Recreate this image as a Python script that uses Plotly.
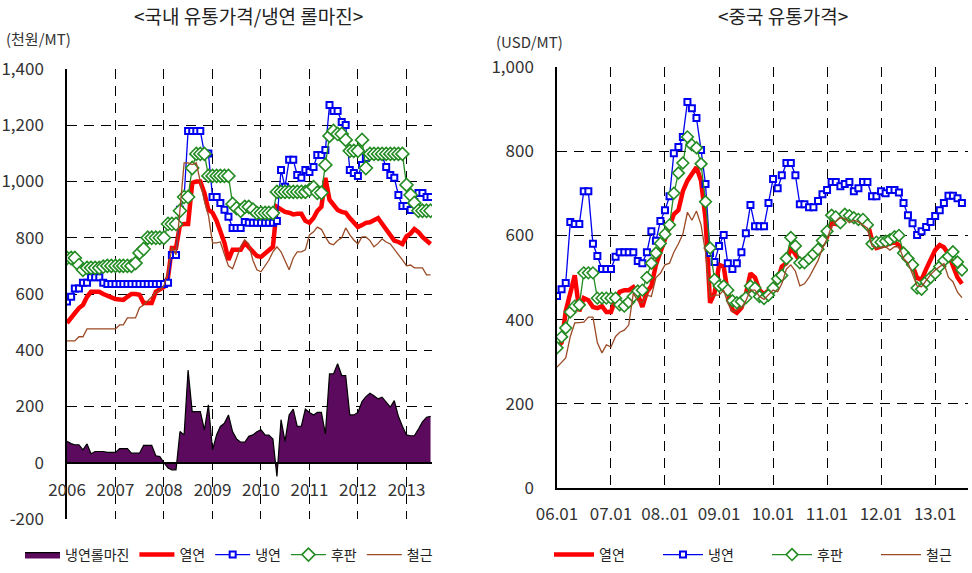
import plotly.graph_objects as go
import pandas as pd

# monthly observations, Jan 2006 - Jul 2013
months = pd.date_range("2006-01-01", periods=91, freq="MS")

# ---- Domestic (KRW thousand / MT) ----
kr_margin = [76, 68, 64, 64, 46, 67, 32, 40, 40, 40,
             37, 37, 37, 50, 50, 50, 34, 34, 34, 62,
             62, 62, 25, 22, 0, -19, -25, -25, 111, 99,
             330, 182, 182, 182, 117, 206, 46, 100, 129, 141,
             170, 111, 85, 73, 73, 94, 99, 110, 117, 99,
             98, 84, -49, 153, 76, 170, 191, 129, 130, 191,
             179, 170, 179, 179, 103, 316, 316, 352, 310, 310,
             170, 170, 179, 218, 235, 247, 238, 227, 233, 215,
             198, 221, 165, 130, 99, 96, 96, 120, 145, 162, 165]
kr_hr = [497, 515, 533, 550, 561, 590, 608, 608, 608, 600,
         592, 588, 582, 579, 579, 590, 600, 600, 597, 568,
         568, 568, 608, 615, 625, 660, 764, 764, 846, 849,
         849, 995, 1000, 1000, 959, 899, 889, 860, 817, 782,
         721, 757, 757, 757, 782, 768, 750, 735, 732, 745,
         760, 768, 910, 899, 892, 889, 883, 885, 885, 860,
         853, 870, 895, 910, 1013, 935, 915, 899, 892, 889,
         870, 856, 838, 845, 853, 855, 862, 870, 850, 830,
         810, 790, 785, 778, 805, 815, 831, 820, 803, 790, 778]
kr_cr = [573, 590, 620, 620, 640, 640, 660, 660, 660, 640,
         636, 636, 636, 636, 636, 636, 636, 636, 636, 636,
         636, 636, 636, 636, 636, 640, 739, 739, 900, 945,
         1180, 1180, 1180, 1180, 1100, 1100, 945, 945, 924, 900,
         875, 835, 835, 835, 856, 853, 853, 853, 853, 853,
         853, 853, 860, 1041, 981, 1077, 1077, 1023, 1013, 1041,
         1034, 1052, 1094, 1094, 1112, 1272, 1251, 1251, 1212, 1201,
         1041, 1030, 1020, 1059, 1084, 1100, 1100, 1097, 1090, 1052,
         1023, 1013, 952, 913, 913, 899, 927, 959, 959, 945, 945]
kr_plate = [728, 728, 728, 703, 686, 693, 693, 693, 693, 697,
            700, 700, 700, 700, 700, 700, 700, 710, 746, 760,
            800, 800, 800, 800, 800, 849, 849, 849, 896, 945,
            945, 1048, 1098, 1098, 1098, 1020, 1020, 1020, 1020, 1020,
            1020, 920, 905, 896, 910, 910, 900, 888, 888, 888,
            888, 888, 963, 963, 963, 963, 963, 963, 963, 963,
            970, 980, 960, 960, 1059, 1162, 1180, 1169, 1169, 1148,
            1109, 1109, 1109, 1148, 1048, 1098, 1098, 1098, 1098, 1098,
            1098, 1098, 1098, 1098, 988, 952, 924, 896, 896, 896, 896]
kr_rebar = [433, 433, 433, 448, 448, 476, 476, 476, 476, 476,
            476, 476, 476, 490, 490, 515, 515, 515, 551, 561,
            575, 590, 605, 615, 630, 680, 768, 740, 900, 1066,
            1066, 1060, 1066, 1000, 930, 880, 782, 782, 785, 740,
            700, 690, 730, 768, 792, 778, 720, 686, 679, 700,
            720, 750, 768, 750, 720, 686, 728, 750, 750, 757,
            810, 821, 838, 830, 803, 780, 775, 790, 800, 835,
            810, 792, 778, 803, 803, 790, 768, 780, 796, 785,
            778, 760, 740, 721, 700, 703, 693, 693, 693, 668, 668]

kr_yticks = [-200, 0, 200, 400, 600, 800, 1000, 1200, 1400]
kr_yticktext = ["-200", "0", "200", "400", "600", "800", "1,000", "1,200", "1,400"]

# ---- China (USD / MT) ----
cn_hr = [335, 345, 420, 463, 505, 420, 451, 446, 430, 427,
         432, 418, 418, 450, 466, 470, 470, 477, 460, 430,
         466, 480, 530, 560, 590, 615, 650, 660, 705, 730,
         745, 762, 730, 640, 440, 463, 530, 526, 463, 423,
         416, 428, 460, 510, 500, 470, 460, 470, 478, 494,
         526, 534, 572, 555, 540, 542, 547, 552, 563, 577,
         596, 630, 627, 638, 642, 644, 642, 640, 638, 630,
         589, 570, 573, 577, 580, 584, 577, 560, 550, 528,
         499, 495, 520, 541, 565, 577, 572, 555, 525, 500, 485]
cn_cr = [456, 472, 487, 632, 627, 627, 705, 705, 580, 551,
         520, 520, 520, 549, 560, 560, 560, 560, 539, 534,
         560, 610, 587, 634, 660, 693, 795, 810, 834, 917,
         902, 879, 803, 722, 558, 537, 575, 601, 534, 520,
         534, 560, 605, 672, 622, 622, 622, 677, 734, 712,
         743, 772, 772, 743, 674, 674, 667, 667, 682, 698,
         708, 727, 727, 717, 722, 727, 705, 712, 727, 727,
         693, 693, 705, 700, 708, 708, 702, 677, 648, 629,
         601, 610, 620, 632, 646, 660, 677, 694, 694, 688, 677]
cn_plate = [333, 359, 380, 418, 432, 435, 511, 511, 511, 451,
            451, 451, 451, 451, 435, 432, 442, 455, 468, 470,
            500, 534, 558, 581, 603, 625, 700, 748, 772, 834,
            815, 808, 770, 680, 570, 495, 480, 480, 470, 445,
            440, 443, 452, 480, 475, 455, 450, 458, 475, 497,
            505, 545, 595, 575, 535, 535, 545, 556, 567, 588,
            610, 648, 644, 630, 650, 647, 642, 638, 638, 625,
            580, 584, 584, 586, 590, 597, 600, 558, 545, 530,
            475, 472, 490, 500, 510, 526, 540, 550, 561, 537, 518]
cn_rebar = [287, 300, 309, 360, 392, 393, 394, 406, 406, 345,
            321, 340, 335, 360, 370, 375, 387, 463, 445, 440,
            458, 455, 500, 510, 530, 534, 560, 580, 603, 655,
            636, 658, 625, 560, 454, 458, 458, 470, 439, 418,
            422, 428, 445, 470, 470, 455, 448, 458, 470, 466,
            485, 520, 530, 515, 480, 485, 500, 520, 540, 570,
            592, 622, 633, 642, 640, 630, 636, 632, 625, 617,
            575, 570, 572, 573, 565, 573, 573, 545, 535, 505,
            480, 478, 494, 507, 518, 526, 533, 500, 490, 465, 452]

cn_tickvals = ["2006-01-01", "2007-01-01", "2008-01-01", "2009-01-01",
               "2010-01-01", "2011-01-01", "2012-01-01", "2013-01-01"]
cn_ticktext = ["06.01", "07.01", "08..01", "09.01", "10.01", "11.01", "12.01", "13.01"]

names = {"margin": "냉연롤마진", "hr": "열연", "cr": "냉연", "plate": "후판", "rebar": "철근"}

RED = "#FF0000"
BLUE = "#0000F0"
GREEN = "#238C23"
BROWN = "#9B4A26"
PURPLE = "#5C0A5E"
FONT = "Noto Sans CJK KR"

fig = go.Figure()

# left chart
fig.add_trace(go.Scatter(x=months, y=kr_margin, name=names["margin"], mode="lines",
                         fill="tozeroy", fillcolor=PURPLE, line=dict(color="black", width=1.2),
                         xaxis="x", yaxis="y", legend="legend"))
fig.add_trace(go.Scatter(x=months, y=kr_hr, name=names["hr"], mode="lines",
                         line=dict(color=RED, width=4.5), xaxis="x", yaxis="y", legend="legend"))
fig.add_trace(go.Scatter(x=months, y=kr_cr, name=names["cr"], mode="lines+markers",
                         line=dict(color=BLUE, width=1.3),
                         marker=dict(symbol="square", size=6, color="white", line=dict(color=BLUE, width=2)),
                         xaxis="x", yaxis="y", legend="legend"))
fig.add_trace(go.Scatter(x=months, y=kr_plate, name=names["plate"], mode="lines+markers",
                         line=dict(color=GREEN, width=1.3),
                         marker=dict(symbol="diamond", size=10, color="white", line=dict(color=GREEN, width=1.6)),
                         xaxis="x", yaxis="y", legend="legend"))
fig.add_trace(go.Scatter(x=months, y=kr_rebar, name=names["rebar"], mode="lines",
                         line=dict(color=BROWN, width=1.3), xaxis="x", yaxis="y", legend="legend"))

# right chart
fig.add_trace(go.Scatter(x=months, y=cn_hr, name=names["hr"], mode="lines",
                         line=dict(color=RED, width=4.5), xaxis="x2", yaxis="y2", legend="legend2"))
fig.add_trace(go.Scatter(x=months, y=cn_cr, name=names["cr"], mode="lines+markers",
                         line=dict(color=BLUE, width=1.3),
                         marker=dict(symbol="square", size=6, color="white", line=dict(color=BLUE, width=2)),
                         xaxis="x2", yaxis="y2", legend="legend2"))
fig.add_trace(go.Scatter(x=months, y=cn_plate, name=names["plate"], mode="lines+markers",
                         line=dict(color=GREEN, width=1.3),
                         marker=dict(symbol="diamond", size=9, color="white", line=dict(color=GREEN, width=1.6)),
                         xaxis="x2", yaxis="y2", legend="legend2"))
fig.add_trace(go.Scatter(x=months, y=cn_rebar, name=names["rebar"], mode="lines",
                         line=dict(color=BROWN, width=1.3), xaxis="x2", yaxis="y2", legend="legend2"))

grid = dict(showgrid=True, gridcolor="black", gridwidth=1, griddash="10px,7px",
            showline=True, linecolor="black", linewidth=1.5, ticks="",
            tickfont=dict(family=FONT, size=17, color="#333333"), zeroline=False)

W, H = 972, 573

fig.update_layout(
    width=W, height=H,
    margin=dict(l=0, r=0, t=0, b=0, autoexpand=False),
    paper_bgcolor="white", plot_bgcolor="white",
    font=dict(family=FONT, color="#222222"),
    showlegend=True,
    xaxis=dict(type="date", domain=[67 / W, 432 / W], range=["2006-01-01", "2013-07-12"],
               anchor="free", position=1 - 463 / H, dtick="M12", tick0="2006-01-01",
               tickformat="%Y", ticklabelstandoff=12, **grid),
    yaxis=dict(domain=[1 - 519 / H, 1 - 69 / H], range=[-200, 1400],
               tickvals=kr_yticks, ticktext=kr_yticktext, anchor="x", ticklabelstandoff=18, **grid),
    xaxis2=dict(type="date", domain=[557 / W, 968 / W], range=["2006-01-01", "2013-08-11"],
                anchor="y2", tickvals=cn_tickvals, ticktext=cn_ticktext,
                ticklabelstandoff=10, **grid),
    yaxis2=dict(domain=[1 - 488 / H, 1 - 67 / H], range=[0, 1000], dtick=200,
                tickformat=",", anchor="x2", ticklabelstandoff=18, **grid),
    legend=dict(orientation="h", x=20 / W, y=1 - 555 / H, xanchor="left", yanchor="middle",
                itemwidth=35,
                font=dict(family=FONT, size=14, color="#222222"), bgcolor="rgba(0,0,0,0)"),
    legend2=dict(orientation="h", x=549 / W, y=1 - 555 / H, xanchor="left", yanchor="middle",
                 itemwidth=40, entrywidth=54,
                 font=dict(family=FONT, size=14, color="#222222"), bgcolor="rgba(0,0,0,0)"),
    annotations=[
        dict(text="<국내 유통가격/냉연 롤마진>", x=248 / W, y=1, xref="paper", yref="paper",
             xanchor="center", yanchor="top", showarrow=False,
             font=dict(family=FONT, size=19, color="#222222")),
        dict(text="<중국 유통가격>", x=783 / W, y=1, xref="paper", yref="paper",
             xanchor="center", yanchor="top", showarrow=False,
             font=dict(family=FONT, size=19, color="#222222")),
        dict(text="(천원/MT)", x=4 / W, y=1 - 38 / H, xref="paper", yref="paper",
             xanchor="left", yanchor="middle", showarrow=False,
             font=dict(family=FONT, size=15, color="#333333")),
        dict(text="(USD/MT)", x=494 / W, y=1 - 42 / H, xref="paper", yref="paper",
             xanchor="left", yanchor="middle", showarrow=False,
             font=dict(family=FONT, size=15, color="#333333")),
    ],
)

fig.write_html("out.html")
